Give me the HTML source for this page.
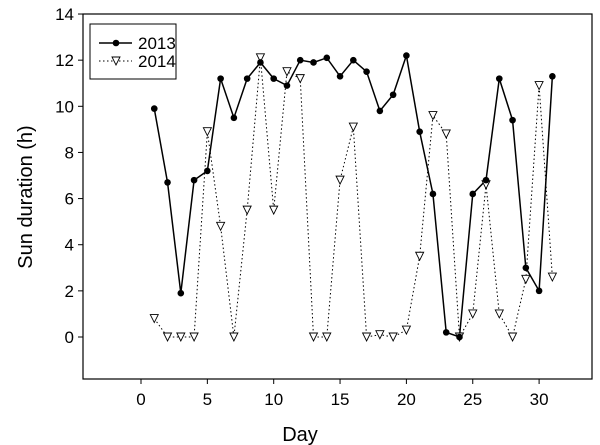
<!DOCTYPE html><html><head><style>body{margin:0;background:#fff}svg{display:block}text{font-family:"Liberation Sans",Arial,sans-serif;fill:#000}</style></head><body>
<svg id="s" width="600" height="445" xmlns="http://www.w3.org/2000/svg"></svg>
<script>
const s=document.getElementById('s');
const X=d=>141+d*13.27, Y=v=>337-v*23.07;
let h='';
h+='<rect x="83" y="14" width="509" height="365" fill="none" stroke="#000" stroke-width="1.2"/>';
for(let v=0;v<=14;v+=2){h+=`<line x1="78" x2="83" y1="${Y(v)}" y2="${Y(v)}" stroke="#000"/><text x="74" y="${Y(v)+6}" font-size="17" text-anchor="end">${v}</text>`;}
for(let d=0;d<=30;d+=5){h+=`<line x1="${X(d)}" x2="${X(d)}" y1="379" y2="384" stroke="#000"/><text x="${X(d)}" y="405" font-size="17" text-anchor="middle">${d}</text>`;}
h+='<text x="300" y="441" font-size="20" text-anchor="middle">Day</text>';
h+='<text transform="translate(32,197) rotate(-90)" font-size="20" text-anchor="middle">Sun duration (h)</text>';
const a=[9.9,6.7,1.9,6.8,7.2,11.2,9.5,11.2,11.9,11.2,10.9,12.0,11.9,12.1,11.3,12.0,11.5,9.8,10.5,12.2,8.9,6.2,0.2,0.0,6.2,6.8,11.2,9.4,3.0,2.0,11.3];
const b=[0.8,0,0,0,8.9,4.8,0,5.5,12.1,5.5,11.5,11.2,0,0,6.8,9.1,0,0.1,0,0.3,3.5,9.6,8.8,0,1.0,6.6,1.0,0,2.5,10.9,2.6];
h+=`<polyline fill="none" stroke="#000" stroke-width="1" stroke-dasharray="1.5,2.5" points="${b.map((v,i)=>X(i+1)+','+Y(v)).join(' ')}"/>`;
h+=`<polyline fill="none" stroke="#000" stroke-width="1.5" points="${a.map((v,i)=>X(i+1)+','+Y(v)).join(' ')}"/>`;
const tri=(x,y)=>`<polygon points="${x-4},${y-4} ${x+4},${y-4} ${x},${y+4}" fill="#fff" stroke="#000" stroke-width="0.9"/>`;
b.forEach((v,i)=>h+=tri(X(i+1),Y(v)));
a.forEach((v,i)=>h+=`<circle cx="${X(i+1)}" cy="${Y(v)}" r="3.3" fill="#000"/>`);
h+='<rect x="90" y="24" width="86" height="55" fill="#fff" stroke="#000" stroke-width="1"/>';
h+='<line x1="99" x2="132" y1="43" y2="43" stroke="#000" stroke-width="1.5"/><circle cx="116" cy="43" r="3.3"/>';
h+='<line x1="99" x2="132" y1="61" y2="61" stroke="#000" stroke-dasharray="1.5,2.5"/>'+tri(116,61);
h+='<text x="138" y="49" font-size="17">2013</text><text x="138" y="67" font-size="17">2014</text>';
s.innerHTML=h;
</script></body></html>
